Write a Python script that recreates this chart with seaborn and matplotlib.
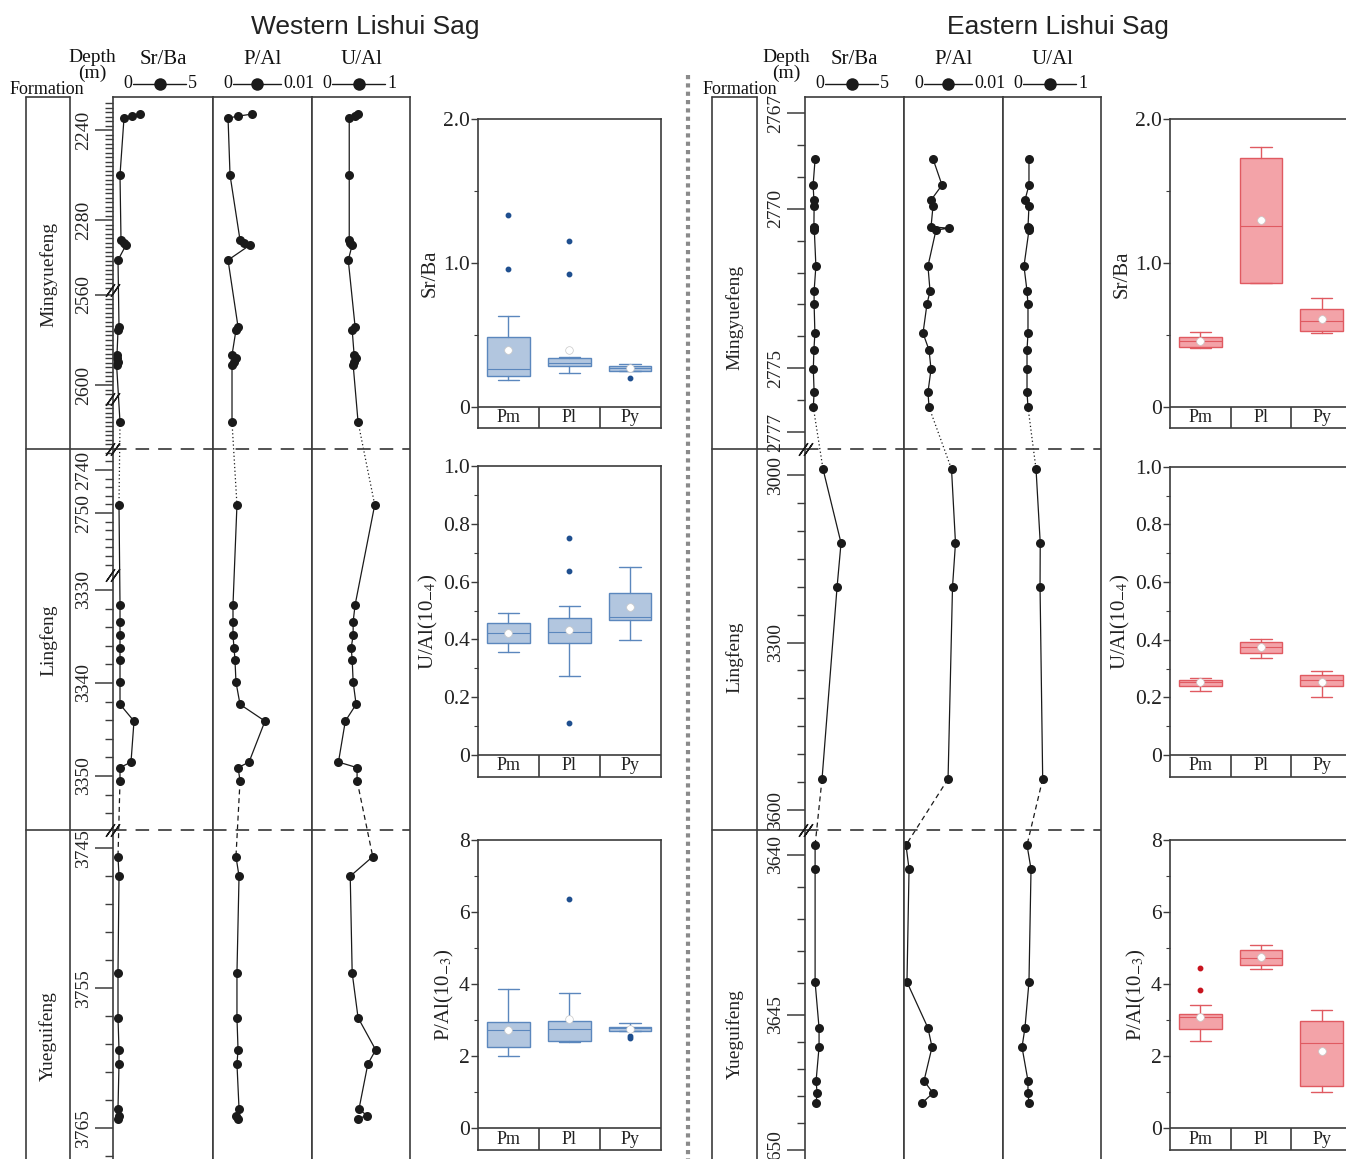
import numpy as np
import pandas as pd
import matplotlib
matplotlib.use("Agg")
import matplotlib.pyplot as plt
import matplotlib.transforms as mtransforms
from matplotlib.lines import Line2D
import seaborn as sns

sns.set_theme(style="white")
plt.rcParams["font.family"] = ["Liberation Serif", "DejaVu Serif"]
plt.rcParams["mathtext.fontset"] = "stix"

W, H = 1346, 1159
fig = plt.figure(figsize=(W / 100, H / 100), dpi=100)

# ------------------------------------------------------------------ data
formations = ["Mingyuefeng", "Lingfeng", "Yueguifeng"]
box_groups = ["Pm", "Pl", "Py"]

# Western Lishui Sag: sample depths (m) and element ratios (P/Al in 10^-3)
w_depth_pm = [2232.9, 2233.8, 2234.7, 2260.0, 2288.9, 2290.2, 2291.1, 2297.8,
              2574.2, 2575.6, 2586.7, 2588.0, 2589.8, 2591.1, 2630.2]
w_srba_pm = [1.33, 0.95, 0.55, 0.35, 0.40, 0.55, 0.65, 0.25,
             0.30, 0.25, 0.20, 0.20, 0.25, 0.18, 0.35]
w_pal_pm = [3.94, 2.53, 1.52, 1.72, 2.73, 3.13, 3.74, 1.52,
            2.53, 2.32, 1.92, 2.32, 2.12, 1.92, 1.92]
w_ual_pm = [0.47, 0.44, 0.38, 0.38, 0.38, 0.39, 0.41, 0.37,
            0.44, 0.41, 0.43, 0.45, 0.43, 0.42, 0.47]

w_depth_pl = [2748.1, 3331.6, 3333.4, 3334.9, 3336.2, 3337.5, 3339.9, 3342.3,
              3344.1, 3348.5, 3349.1, 3350.5]
w_srba_pl = [0.30, 0.35, 0.35, 0.35, 0.35, 0.35, 0.35, 0.35, 1.05, 0.90, 0.35, 0.35]
w_pal_pl = [2.42, 2.02, 2.02, 2.02, 2.12, 2.22, 2.32, 2.73, 5.25, 3.64, 2.53, 2.73]
w_ual_pl = [0.64, 0.44, 0.42, 0.42, 0.40, 0.41, 0.42, 0.45, 0.34, 0.27, 0.46, 0.46]

w_depth_py = [3745.6, 3747.0, 3753.9, 3757.1, 3759.4, 3760.4, 3763.6, 3764.1, 3764.3]
w_srba_py = [0.25, 0.30, 0.25, 0.25, 0.30, 0.30, 0.25, 0.30, 0.25]
w_pal_py = [2.32, 2.63, 2.42, 2.42, 2.53, 2.42, 2.63, 2.32, 2.53]
w_ual_py = [0.62, 0.39, 0.41, 0.47, 0.65, 0.57, 0.48, 0.56, 0.47]

# Eastern Lishui Sag
e_depth_pm = [2768.44, 2769.26, 2769.73, 2769.92, 2770.57, 2770.61, 2770.67, 2771.80,
              2772.58, 2772.99, 2773.90, 2774.43, 2775.03, 2775.75, 2776.22]
e_srba_pm = [0.51, 0.41, 0.45, 0.46, 0.45, 0.46, 0.47, 0.55,
             0.46, 0.46, 0.50, 0.45, 0.42, 0.46, 0.42]
e_pal_pm = [2.93, 3.84, 2.73, 2.93, 2.73, 4.55, 3.23, 2.42,
            2.63, 2.32, 1.92, 2.53, 2.73, 2.42, 2.53]
e_ual_pm = [0.265, 0.265, 0.224, 0.265, 0.255, 0.265, 0.265, 0.214,
            0.245, 0.255, 0.255, 0.245, 0.245, 0.245, 0.255]

e_depth_pl = [2989.3, 3121.8, 3200.6, 3544.5]
e_srba_pl = [0.91, 1.82, 1.62, 0.86]
e_pal_pl = [4.8, 5.2, 4.9, 4.45]
e_ual_pl = [0.337, 0.38, 0.378, 0.405]

e_depth_py = [3639.69, 3640.44, 3643.97, 3645.48, 3646.19, 3647.44, 3647.89, 3648.26]
e_srba_py = [0.51, 0.51, 0.51, 0.71, 0.71, 0.56, 0.61, 0.56]
e_pal_py = [0.20, 0.51, 0.30, 2.42, 2.83, 2.02, 2.93, 1.82]
e_ual_py = [0.245, 0.286, 0.265, 0.224, 0.194, 0.255, 0.255, 0.265]

# Box-plot summaries: lower whisker, Q1, median, Q3, upper whisker
w_srba_five = [[0.188, 0.216, 0.267, 0.49, 0.63], [0.235, 0.286, 0.31, 0.34, 0.345],
               [0.253, 0.253, 0.27, 0.286, 0.30]]
w_srba_mean = [0.40, 0.40, 0.274]
w_srba_out = [[0.955, 1.33], [0.92, 1.15], [0.20]]

w_ual_five = [[0.355, 0.389, 0.423, 0.456, 0.49], [0.273, 0.389, 0.427, 0.475, 0.516],
              [0.398, 0.467, 0.479, 0.562, 0.652]]
w_ual_mean = [0.423, 0.433, 0.513]
w_ual_out = [[], [0.11, 0.638, 0.752], []]

w_pal_five = [[2.0, 2.26, 2.73, 2.94, 3.87], [2.39, 2.43, 2.75, 2.99, 3.76],
              [2.71, 2.71, 2.77, 2.82, 2.91]]
w_pal_mean = [2.73, 3.02, 2.76]
w_pal_out = [[], [6.36], [2.50, 2.56]]

e_srba_five = [[0.41, 0.42, 0.46, 0.486, 0.52], [0.865, 0.865, 1.26, 1.73, 1.81],
               [0.516, 0.53, 0.597, 0.686, 0.757]]
e_srba_mean = [0.46, 1.30, 0.613]
e_srba_out = [[], [], []]

e_ual_five = [[0.223, 0.24, 0.252, 0.26, 0.266], [0.337, 0.355, 0.374, 0.393, 0.403],
              [0.20, 0.238, 0.26, 0.276, 0.292]]
e_ual_mean = [0.252, 0.374, 0.254]
e_ual_out = [[], [], []]

e_pal_five = [[2.43, 2.75, 3.08, 3.17, 3.41], [4.42, 4.54, 4.73, 4.95, 5.10],
              [1.0, 1.17, 2.36, 2.97, 3.27]]
e_pal_mean = [3.10, 4.74, 2.15]
e_pal_out = [[3.83, 4.44], [], []]

# ------------------------------------------------------------------ helpers
FRAME = "#3c3c3c"


def px_axes(x0, x1, y0, y1):
    return fig.add_axes([x0 / W, 1 - y1 / H, (x1 - x0) / W, (y1 - y0) / H])


def ftext(x, y, s, **kw):
    fig.text(x / W, 1 - y / H, s, **kw)


def depth_scale(segments):
    d = np.array([v for seg, _ in segments for v in seg], float)
    p = np.array([v for _, rows in segments for v in rows], float)
    p = p + np.arange(len(p)) * 1e-4
    return (lambda x: np.interp(x, d, p)), (lambda y: np.interp(y, p, d))


TOP, BOT = 97, 1190


def profile(col_x0, col_x1, tracks, segments, breaks, bounds, major, minor,
            series, label_depths):
    fwd, inv = depth_scale(segments)
    ylim = (inv(BOT), inv(TOP))

    def setup(ax):
        ax.set_yscale("function", functions=(fwd, inv))
        ax.set_ylim(*ylim)

    # formation column
    axf = px_axes(col_x0, tracks[0], TOP, BOT)
    setup(axf)
    axf.set_xlim(0, 1)
    axf.axis("off")
    xf = (col_x1 - col_x0) / (tracks[0] - col_x0)
    axf.axvline(0, color=FRAME, lw=1.2, clip_on=False)
    axf.axvline(xf, color=FRAME, lw=1.2, clip_on=False)
    axf.plot([0, xf], [1, 1], transform=axf.transAxes, color=FRAME, lw=1.2, clip_on=False)
    for b in bounds:
        axf.axhline(b, color=FRAME, lw=1.2, clip_on=False)
    bt = mtransforms.blended_transform_factory(axf.transAxes, axf.transData)
    for name, d in zip(formations, label_depths):
        axf.text(xf / 2, d, name, transform=bt, rotation=90, ha="center", va="center",
                 fontsize=14, color="#222")

    xmaxes = [5, 10, 1]
    axes = []
    for i in range(3):
        ax = px_axes(tracks[i], tracks[i + 1], TOP, BOT)
        setup(ax)
        dep, vals = series[i]
        parts = list(zip(dep, vals))
        for k, (dd, vv) in enumerate(parts):
            df = pd.DataFrame({"depth": dd, "val": vv})
            sns.lineplot(data=df, x="val", y="depth", sort=False, estimator=None,
                         orient="y", color="k", lw=0.9, marker="o", markersize=6.5,
                         markeredgewidth=0, ax=ax)
            if k < len(parts) - 1:
                nd, nv = parts[k + 1]
                ax.plot([vv[-1], nv[0]], [dd[-1], nd[0]], color="k", lw=0.9,
                        ls=(0, (1, 2)) if k == 0 else (0, (4, 3)))
        ax.set_xlim(0, xmaxes[i])
        ax.set(xlabel="", ylabel="")
        ax.set_xticks([])
        for s in ("left", "right", "top"):
            ax.spines[s].set_color(FRAME)
            ax.spines[s].set_linewidth(1.2)
        ax.spines["bottom"].set_visible(False)
        for b in bounds:
            ax.axhline(b, color="#444", lw=1.3, ls=(0, (7.5, 5)))
        ax.set_yticks([])
        ax.set_yticks([], minor=True)
        axes.append(ax)

    ax0 = axes[0]
    ax0.set_yticks([m for m, _ in major])
    ax0.set_yticklabels([l for _, l in major], rotation=90, va="center")
    ax0.set_yticks(minor, minor=True)
    ax0.tick_params(axis="y", which="major", left=True, direction="out", length=13,
                    width=1.1, color=FRAME, labelsize=14, pad=2, labelcolor="#222")
    ax0.tick_params(axis="y", which="minor", left=True, direction="out", length=6,
                    width=1.0, color=FRAME)
    base = mtransforms.blended_transform_factory(ax0.transAxes, ax0.transData)
    for bd in breaks:
        for dx in (-2.5, 2.5):
            tr = mtransforms.offset_copy(base, fig=fig, x=dx, y=0, units="dots")
            ax0.plot([0], [bd], transform=tr, marker=(2, 2, -35), ms=11, mew=1.0,
                     color="k", clip_on=False, zorder=5)
    return axes


def box_panel(x0, x1, ytop, yzero, ystrip, ymax, five, means, outs, face, edge, fl,
              ylabel, major, minor):
    ax = px_axes(x0, x1, ytop, ystrip)
    ymin = -(ystrip - yzero) / (yzero - ytop) * ymax
    stats = []
    for g, f5, m, o in zip(box_groups, five, means, outs):
        stats.append(dict(label=g, whislo=f5[0], q1=f5[1], med=f5[2], q3=f5[3],
                          whishi=f5[4], mean=m, fliers=np.array(o)))
    ax.bxp(stats, positions=[0, 1, 2], widths=0.7, capwidths=0.35, patch_artist=True,
           showmeans=True, showfliers=True, manage_ticks=False,
           boxprops=dict(facecolor=face, edgecolor=edge, linewidth=1.0),
           medianprops=dict(color=edge, linewidth=0.8),
           whiskerprops=dict(color=edge, linewidth=1.0),
           capprops=dict(color=edge, linewidth=1.0),
           flierprops=dict(marker="o", markerfacecolor=fl, markeredgecolor=fl,
                           markersize=3.2),
           meanprops=dict(marker="o", markerfacecolor="white", markeredgecolor="#c8c8c8",
                          markeredgewidth=0.5, markersize=5.5))
    ax.set_xlim(-0.5, 2.5)
    ax.set_ylim(ymin, ymax)
    ax.axhline(0, color=FRAME, lw=1.2)
    ax.vlines([0.5, 1.5], ymin, 0, color=FRAME, lw=1.2)
    for i, g in enumerate(box_groups):
        ax.text(i, ymin / 2, g, ha="center", va="center", fontsize=13, color="#222")
    ax.set_xticks([])
    ax.set_yticks([m for m, _ in major])
    ax.set_yticklabels([l for _, l in major])
    ax.set_yticks(minor, minor=True)
    ax.tick_params(axis="y", which="major", left=True, direction="out", length=5,
                   width=1.0, color=FRAME, labelsize=15.5, pad=1, labelcolor="#222")
    ax.tick_params(axis="y", which="minor", left=True, direction="out", length=3,
                   width=0.8, color=FRAME)
    for s in ax.spines.values():
        s.set_color(FRAME)
        s.set_linewidth(1.2)
    ax.set_ylabel(ylabel, fontsize=15, labelpad=2, color="#222")
    return ax


def header(depth_x, col_x, tracks, title_x, title):
    ftext(title_x, 27, title, ha="center", va="center", fontsize=19,
          family="Liberation Sans", color="#222")
    ftext(depth_x, 57, "Depth", ha="center", va="center", fontsize=14, color="#111")
    ftext(depth_x, 73, "(m)", ha="center", va="center", fontsize=14, color="#111")
    ftext(col_x, 89, "Formation", ha="center", va="center", fontsize=13, color="#111")
    names = ["Sr/Ba", "P/Al", "U/Al"]
    ends = ["5", "0.01", "1"]
    for i in range(3):
        a, b = tracks[i], tracks[i + 1]
        c = (a + b) / 2
        ftext(c, 59, names[i], ha="center", va="center", fontsize=15, color="#111")
        ftext(a + 15, 84, "0", ha="center", va="center", fontsize=13, color="#111")
        l0, l1 = a + 20, a + 73 if i != 1 else a + 68
        fig.add_artist(Line2D([l0 / W, l1 / W], [1 - 84 / H] * 2, color="k", lw=1.0))
        fig.add_artist(Line2D([(l0 + l1) / 2 / W], [1 - 84 / H], marker="o", ms=9,
                              color="k", mew=0))
        ftext(l1 + 2, 84, ends[i], ha="left", va="center", fontsize=13, color="#111")


# ------------------------------------------------------------------ Western Lishui Sag
w_tracks = [113, 213, 312, 410]
w_segments = [((2225.3, 2311.1), (97, 290)),
              ((2557.8, 2606.2), (290, 399)),
              ((2620.0, 2642.2), (399, 449)),
              ((2735.1, 2764.4), (449, 575)),
              ((3328.4, 3355.8), (575, 830)),
              ((3743.7, 3769.4), (830, 1190))]
w_breaks = [2311.1, 2606.2, 2642.2, 2764.4, 3355.8]
w_bounds = [2642.2, 3355.8]
w_major = [(2240, "2240"), (2280, "2280"), (2560, "2560"), (2600, "2600"),
           (2740, "2740"), (2750, "2750"), (3330, "3330"), (3340, "3340"),
           (3350, "3350"), (3745, "3745"), (3755, "3755"), (3765, "3765")]
w_minor = (list(np.arange(2228, 2311, 2)) + list(np.arange(2560, 2606, 2)) +
           list(np.arange(2622, 2642, 2)) + list(np.arange(2736, 2764, 2)) +
           list(np.arange(3330, 3356, 2)) + list(np.arange(3745, 3769, 2)))
profile(26, 70, w_tracks, w_segments, w_breaks, w_bounds, w_major, w_minor,
        [([w_depth_pm, w_depth_pl, w_depth_py], [w_srba_pm, w_srba_pl, w_srba_py]),
         ([w_depth_pm, w_depth_pl, w_depth_py], [w_pal_pm, w_pal_pl, w_pal_py]),
         ([w_depth_pm, w_depth_pl, w_depth_py], [w_ual_pm, w_ual_pl, w_ual_py])],
        [2304.4, 3335.4, 3758.4])
header(92, 47, w_tracks, 365, "Western Lishui Sag")

W_FACE, W_EDGE, W_FL = "#b2c6df", "#5b87bd", "#1f4f8f"
box_panel(478, 660.5, 118.5, 407.3, 428.5, 2.0, w_srba_five, w_srba_mean, w_srba_out,
          W_FACE, W_EDGE, W_FL, "Sr/Ba", [(0, "0"), (1.0, "1.0"), (2.0, "2.0")], [0.5, 1.5])
box_panel(478, 660.5, 466, 755, 777, 1.0, w_ual_five, w_ual_mean, w_ual_out,
          W_FACE, W_EDGE, W_FL, r"U/Al(10$_{-4}$)",
          [(0, "0"), (0.2, "0.2"), (0.4, "0.4"), (0.6, "0.6"), (0.8, "0.8"), (1.0, "1.0")],
          [0.1, 0.3, 0.5, 0.7, 0.9])
box_panel(478, 660.5, 840, 1128.3, 1150, 8.0, w_pal_five, w_pal_mean, w_pal_out,
          W_FACE, W_EDGE, W_FL, r"P/Al(10$_{-3}$)",
          [(0, "0"), (2, "2"), (4, "4"), (6, "6"), (8, "8")], [1, 3, 5, 7])

# ------------------------------------------------------------------ Eastern Lishui Sag
e_tracks = [805, 904, 1003, 1101]
e_segments = [((2766.5, 2777.53), (97, 449)),
              ((2953.4, 3635.8), (449, 830)),
              ((3639.22, 3645.0), (830, 1015)),
              ((3645.0, 3651.48), (1015, 1190))]
e_breaks = [2777.53, 3635.8]
e_bounds = [2777.53, 3635.8]
e_major = [(2767, "2767"), (2770, "2770"), (2775, "2775"), (2777, "2777"),
           (3000, "3000"), (3300, "3300"), (3600, "3600"),
           (3640, "3640"), (3645, "3645"), (3650, "3650")]
e_minor = ([2768, 2769, 2771, 2772, 2773, 2774, 2776] +
           list(np.arange(3050, 3600, 50)) + [3641, 3642, 3643, 3644, 3646, 3647, 3648, 3649])
profile(712, 757, e_tracks, e_segments, e_breaks, e_bounds, e_major, e_minor,
        [([e_depth_pm, e_depth_pl, e_depth_py], [e_srba_pm, e_srba_pl, e_srba_py]),
         ([e_depth_pm, e_depth_pl, e_depth_py], [e_pal_pm, e_pal_pl, e_pal_py]),
         ([e_depth_pm, e_depth_pl, e_depth_py], [e_ual_pm, e_ual_pl, e_ual_py])],
        [2773.4, 3326.0, 3645.7])
header(786, 740, e_tracks, 1058, "Eastern Lishui Sag")

E_FACE, E_EDGE, E_FL = "#f3a3a8", "#e05a61", "#c8141e"
box_panel(1170, 1352, 119.3, 407.3, 428.5, 2.0, e_srba_five, e_srba_mean, e_srba_out,
          E_FACE, E_EDGE, E_FL, "Sr/Ba", [(0, "0"), (1.0, "1.0"), (2.0, "2.0")], [0.5, 1.5])
box_panel(1170, 1352, 466.7, 755, 776.5, 1.0, e_ual_five, e_ual_mean, e_ual_out,
          E_FACE, E_EDGE, E_FL, r"U/Al(10$_{-4}$)",
          [(0, "0"), (0.2, "0.2"), (0.4, "0.4"), (0.6, "0.6"), (0.8, "0.8"), (1.0, "1.0")],
          [0.1, 0.3, 0.5, 0.7, 0.9])
box_panel(1170, 1352, 840, 1128.3, 1150, 8.0, e_pal_five, e_pal_mean, e_pal_out,
          E_FACE, E_EDGE, E_FL, r"P/Al(10$_{-3}$)",
          [(0, "0"), (2, "2"), (4, "4"), (6, "6"), (8, "8")], [1, 3, 5, 7])

# dotted divider between the two sags
fig.add_artist(Line2D([688 / W] * 2, [1 - 75 / H, 0], color="#8a8a8a", lw=3.0,
                      ls=(0, (1, 1)), dash_capstyle="butt"))

fig.savefig("out.png", dpi=100)
